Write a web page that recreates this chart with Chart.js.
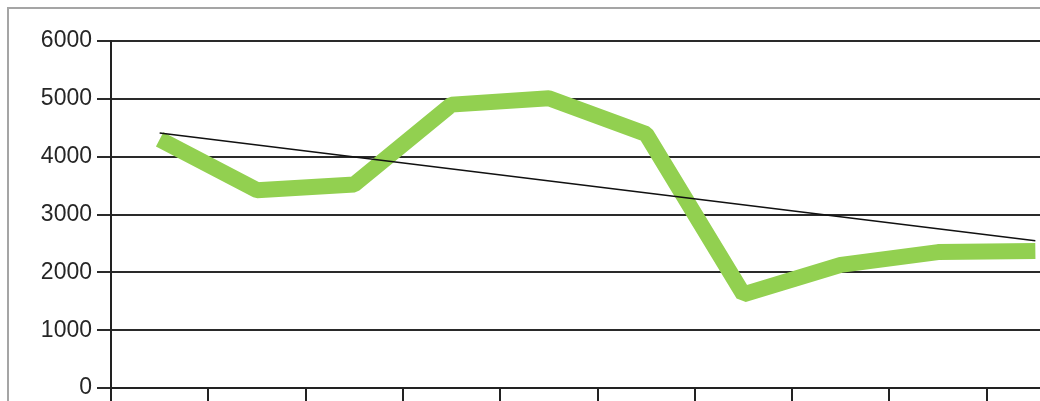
<!DOCTYPE html>
<html>
<head>
<meta charset="utf-8">
<script src="https://cdn.jsdelivr.net/npm/chart.js@4.4.1/dist/chart.umd.min.js"></script>
<style>
  html, body { margin: 0; padding: 0; overflow: hidden; background: #fff; width: 1040px; height: 401px; }
  #frame { position: absolute; left: 7px; top: 7px; width: 1200px; height: 500px; border-left: 2px solid #a5a5a5; border-top: 2px solid #a5a5a5; }
  #wrap { position: absolute; left: 0; top: 0; width: 1100px; height: 420px; }
</style>
</head>
<body>
<div id="frame"></div>
<div id="wrap"><canvas id="c" width="1100" height="420"></canvas></div>
<script>
// Data
const categories = ["1", "2", "3", "4", "5", "6", "7", "8", "9", "10"];
const seriesValues = [4300, 3420, 3520, 4900, 5010, 4390, 1620, 2130, 2350, 2370];
const trendValues = [4410, null, null, null, null, null, null, null, null, 2545];
const yTicks = [0, 1000, 2000, 3000, 4000, 5000, 6000];

new Chart(document.getElementById('c'), {
  type: 'line',
  data: {
    labels: categories,
    datasets: [
      {
        data: seriesValues,
        borderColor: '#92D050',
        borderWidth: 16,
        borderJoinStyle: 'bevel',
        borderCapStyle: 'butt',
        pointRadius: 0,
        tension: 0,
        order: 2
      },
      {
        data: trendValues,
        borderColor: '#111',
        borderWidth: 1.6,
        pointRadius: 0,
        spanGaps: true,
        tension: 0,
        order: 1
      }
    ]
  },
  options: {
    responsive: false,
    animation: false,
    events: [],
    layout: { padding: { top: 41, right: 16, left: 0, bottom: 0 } },
    plugins: { legend: { display: false }, tooltip: { enabled: false } },
    scales: {
      x: {
        offset: true,
        grid: { offset: true, drawOnChartArea: false, drawTicks: true, tickLength: 32, color: '#222', lineWidth: 2 },
        border: { display: true, color: '#222', width: 2 },
        ticks: { display: false },
        afterFit: s => { s.height = 32; }
      },
      y: {
        min: 0,
        max: 6000,
        afterBuildTicks: s => { s.ticks = yTicks.map(v => ({ value: v })); },
        grid: { color: '#2a2a2a', lineWidth: 2, tickLength: 14 },
        border: { display: true, color: '#222', width: 2 },
        ticks: {
          color: '#262626',
          padding: 5,
          font: { family: 'Liberation Sans', size: 23 },
          callback: v => String(v)
        },
        afterFit: s => { s.width = 111; }
      }
    }
  }
});
</script>
</body>
</html>
